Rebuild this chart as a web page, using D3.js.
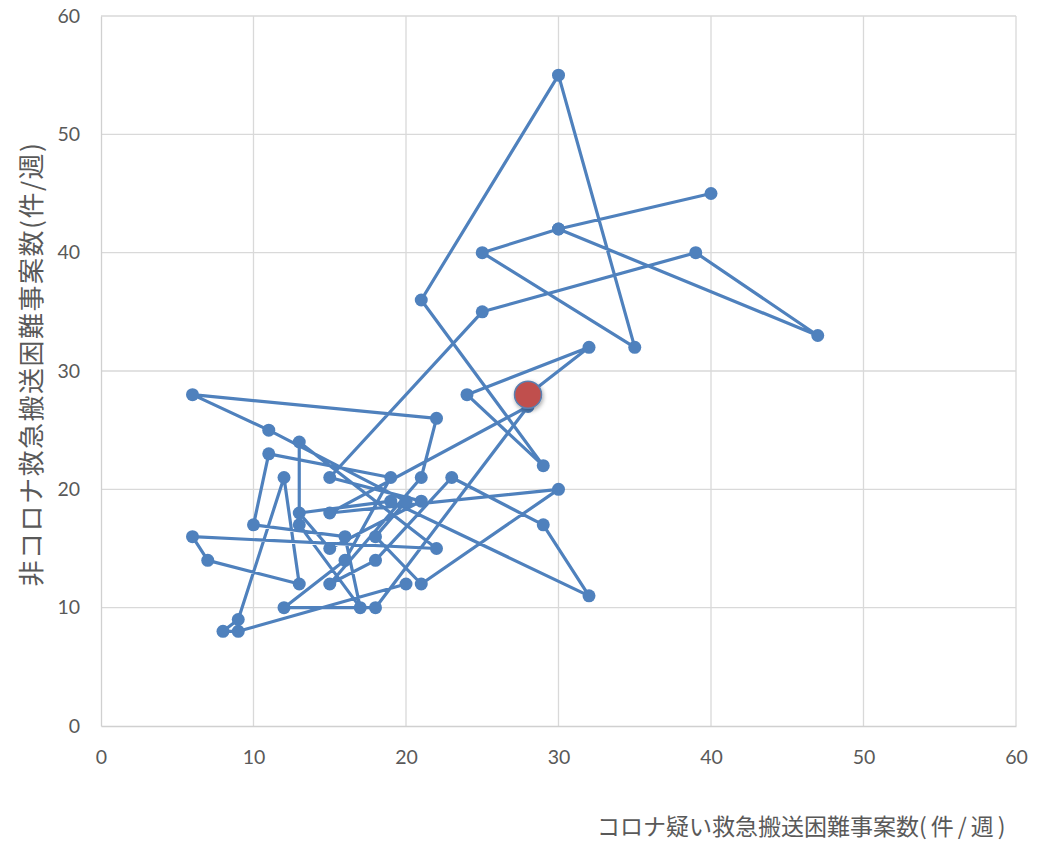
<!DOCTYPE html>
<html><head><meta charset="utf-8">
<script src="https://cdn.jsdelivr.net/npm/d3@7"></script>
<style>body{margin:0;background:#fff;overflow:hidden;} svg{display:block;}</style>
</head><body>
<script>
// Weekly path: x = suspected-COVID difficult transports, y = non-COVID difficult transports
const coronaCases = [20,9,8,9,12,13,7,6,22,13,13,17,16,10,11,19,16,12,18,28,15,30,21,18,20,11,6,22,21,15,18,23,29,32,19,13,15,21,15,25,39,47,30,40,30,25,35,30,21,29,24,32,28];
const nonCoronaCases = [12,8,8,9,21,12,14,16,15,24,17,10,16,17,23,21,14,10,10,27,18,20,12,16,19,25,28,26,21,12,14,21,17,11,19,18,15,19,21,35,40,33,42,45,42,40,32,55,36,22,28,32,28];
const latestPoint = [28, 28];
const xTicks = [0,10,20,30,40,50,60];
const yTicks = [0,10,20,30,40,50,60];
const xTitleMain = "コロナ疑い救急搬送困難事案数";
const xTitleUnit = "(件/週)";
const yTitle = "非コロナ救急搬送困難事案数(件/週)";

const W = 1038, H = 843;
const m = {left:101, right:22, top:16, bottom:117};
const svg = d3.select("body").append("svg").attr("width", W).attr("height", H);
const x = d3.scaleLinear().domain([0,60]).range([m.left, W - m.right]);
const y = d3.scaleLinear().domain([0,60]).range([H - m.bottom, m.top]);
const tickFont = "Lato, 'Open Sans', sans-serif";
const jpFont = "'Noto Sans CJK JP', sans-serif";

// grid
svg.append("g").selectAll("line.v").data(xTicks.slice(1)).join("line")
  .attr("x1", d=>x(d)).attr("x2", d=>x(d)).attr("y1", y(0)).attr("y2", y(60))
  .attr("stroke", "#d9d9d9").attr("stroke-width", 1.3);
svg.append("g").selectAll("line.h").data(yTicks.slice(1)).join("line")
  .attr("x1", x(0)).attr("x2", x(60)).attr("y1", d=>y(d)).attr("y2", d=>y(d))
  .attr("stroke", "#d9d9d9").attr("stroke-width", 1.3);

// axes
const xAxis = svg.append("g").attr("transform", `translate(0,${y(0)})`)
  .call(d3.axisBottom(x).tickValues(xTicks).tickSize(0).tickPadding(24));
const yAxis = svg.append("g").attr("transform", `translate(${x(0)},0)`)
  .call(d3.axisLeft(y).tickValues(yTicks).tickSize(0).tickPadding(21));
[xAxis, yAxis].forEach(g => {
  g.select(".domain").attr("stroke", "#d0d0d0").attr("stroke-width", 1.3);
  g.selectAll("text").attr("font-family", tickFont).attr("font-size", 19.5).attr("fill", "#595959");
});

// titles
const xt = svg.append("text").attr("x", 597).attr("y", 835)
  .attr("font-family", jpFont).attr("font-size", 23).attr("fill", "#595959");
xt.append("tspan").text(xTitleMain);
xt.append("tspan").attr("letter-spacing", 4).text(xTitleUnit);
svg.append("text")
  .attr("transform", `translate(41,${364}) rotate(-90)`)
  .attr("text-anchor", "middle")
  .attr("font-family", jpFont).attr("font-size", 26).attr("letter-spacing", 1.5).attr("fill", "#595959")
  .text(yTitle);

// path
const pts = coronaCases.map((c,i)=>[c, nonCoronaCases[i]]);
const line = d3.line().x(d=>x(d[0])).y(d=>y(d[1]));
svg.append("path").datum(pts).attr("d", line)
  .attr("fill", "none").attr("stroke", "#4F81BD").attr("stroke-width", 3.2)
  .attr("stroke-linejoin", "round");
svg.append("g").selectAll("circle").data(pts).join("circle")
  .attr("cx", d=>x(d[0])).attr("cy", d=>y(d[1])).attr("r", 6.5)
  .attr("fill", "#4F81BD");

// latest point
const defs = svg.append("defs");
const f = defs.append("filter").attr("id","sh").attr("x","-50%").attr("y","-50%").attr("width","200%").attr("height","200%");
f.append("feDropShadow").attr("dx",1).attr("dy",2).attr("stdDeviation",2).attr("flood-color","#000").attr("flood-opacity",0.35);
svg.append("circle").attr("cx", x(latestPoint[0])).attr("cy", y(latestPoint[1])).attr("r", 13.5)
  .attr("fill", "#C0504D").attr("stroke", "#5a7fb0").attr("stroke-width", 1.5).attr("filter","url(#sh)");
</script>
</body></html>
